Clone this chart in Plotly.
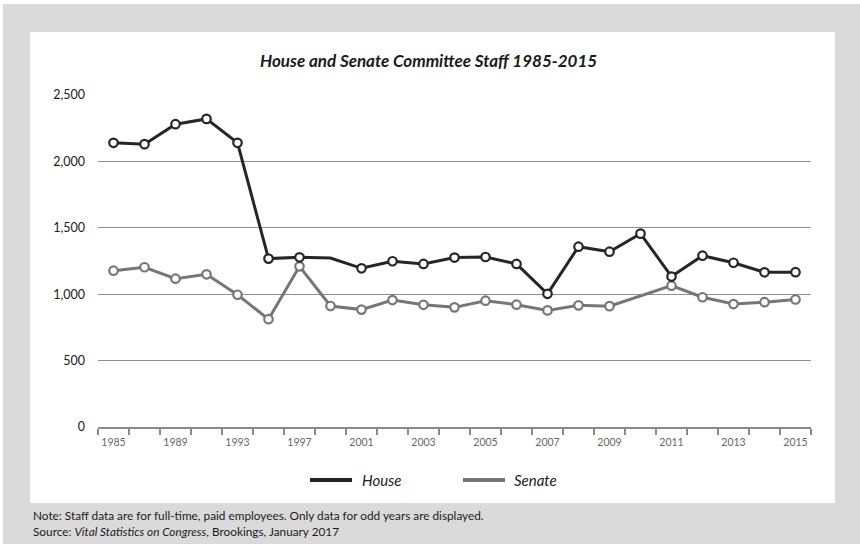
import plotly.graph_objects as go

# Committee staff counts by year (category slots as drawn on the axis)
years = ["1985", "1987", "1989", "1991", "1993", "1995", "1997", "1999", "2001",
         "2002", "2003", "2004", "2005", "2006", "2007", "2008", "2009", "2010",
         "2011", "2012", "2013", "2014", "2015"]
house = [2140, 2130, 2280, 2320, 2140, 1268, 1278, 1272, 1195, 1248, 1228, 1276,
         1280, 1228, 1003, 1358, 1320, 1456, 1133, 1290, 1237, 1165, 1166]
senate = [1177, 1203, 1117, 1150, 996, 812, 1210, 911, 884, 956, 920, 901,
          951, 921, 878, 916, 910, 987, 1064, 977, 926, 940, 960]
# Years whose point marker is not shown
house_hidden = ["1999"]
senate_hidden = ["2010"]

W, H = 860, 544
L, R, T, B = 98, 811, 95, 427  # plot area in pixels

FONT = "Lato"
HOUSE_C = "#262626"
SENATE_C = "#767676"

idx = list(range(len(years)))


def px(x):
    return (x - L) / (R - L)


def py(y):
    return (B - y) / (B - T)


def series(name, vals, color, hidden):
    op = [0 if y in hidden else 1 for y in years]
    return go.Scatter(
        x=idx, y=vals, name=name, mode="lines+markers",
        line=dict(color=color, width=3),
        marker=dict(symbol="circle", size=8.5, color="white", opacity=op,
                    line=dict(color=color, width=2.2)),
        showlegend=False, hoverinfo="skip")


fig = go.Figure()
fig.add_trace(series("Senate", senate, SENATE_C, senate_hidden))
fig.add_trace(series("House", house, HOUSE_C, house_hidden))

# invisible trace to drive the label-only x axis
fig.add_trace(go.Scatter(x=[idx[0]], y=[None], xaxis="x2", showlegend=False,
                         hoverinfo="skip"))

shapes = [
    dict(type="rect", xref="paper", yref="paper", x0=px(3), x1=px(W + 5),
         y0=py(H + 5), y1=py(4), fillcolor="#dadada", line=dict(width=0),
         layer="below"),
    dict(type="rect", xref="paper", yref="paper", x0=px(30), x1=px(835),
         y0=py(503), y1=py(32), fillcolor="white", line=dict(width=0),
         layer="below"),
]

annotations = [
    dict(text="<b><i>House and Senate Committee Staff 1985-2015</i></b>",
         xref="paper", yref="paper", x=px(428), y=py(60), showarrow=False,
         xanchor="center", yanchor="middle",
         font=dict(family=FONT, size=17, color="#1a1a1a")),
    dict(text="Note: Staff data are for full-time, paid employees. Only data for odd years are displayed.",
         xref="paper", yref="paper", x=px(31), y=py(515), showarrow=False,
         xanchor="left", yanchor="middle",
         font=dict(family=FONT, size=11.8, color="#1a1a1a")),
    dict(text="Source: <i>Vital Statistics on Congress</i>, Brookings, January 2017",
         xref="paper", yref="paper", x=px(31), y=py(531), showarrow=False,
         xanchor="left", yanchor="middle",
         font=dict(family=FONT, size=11.8, color="#1a1a1a")),
]

# legend drawn as line swatches with italic labels
legend_items = [("House", HOUSE_C, 310, 352, 360), ("Senate", SENATE_C, 463, 505, 512)]
for name, color, x0, x1, tx in legend_items:
    shapes.append(dict(type="line", xref="paper", yref="paper", x0=px(x0), x1=px(x1),
                       y0=py(480), y1=py(480), line=dict(color=color, width=4)))
    annotations.append(dict(text=f"<i>{name}</i>", xref="paper", yref="paper",
                            x=px(tx), y=py(480), showarrow=False, xanchor="left",
                            yanchor="middle",
                            font=dict(family=FONT, size=15, color="#1a1a1a")))

bounds = [i - 0.5 for i in idx] + [idx[-1] + 0.5]

fig.update_layout(
    width=W, height=H,
    margin=dict(l=L, r=W - R, t=T, b=H - B, pad=0),
    paper_bgcolor="white", plot_bgcolor="rgba(0,0,0,0)",
    font=dict(family=FONT),
    showlegend=False,
    shapes=shapes, annotations=annotations,
    xaxis=dict(range=[-0.5, len(years) - 0.5], tickmode="array", tickvals=bounds,
               ticktext=[""] * len(bounds), ticks="outside", ticklen=6,
               tickcolor="#8a8a8a", tickwidth=1.5, showline=True,
               linecolor="#8a8a8a", linewidth=1.5, showgrid=False, zeroline=False,
               fixedrange=True),
    xaxis2=dict(overlaying="x", anchor="y", side="bottom",
                range=[-0.5, len(years) - 0.5], tickmode="array",
                tickvals=idx[::2], ticktext=years[::2], ticks="", showline=False,
                showgrid=False, zeroline=False, ticklabelstandoff=7,
                tickfont=dict(family=FONT, size=10.5, color="#666666")),
    yaxis=dict(range=[0, 2500], tickmode="array",
               tickvals=[0, 500, 1000, 1500, 2000, 2500],
               ticktext=["0", "500", "1,000", "1,500", "2,000", "2,500"],
               showgrid=True, gridcolor="#8f8f8f", gridwidth=1.3,
               zeroline=False, showline=False, ticks="", ticklabelstandoff=12,
               tickfont=dict(family=FONT, size=12.5, color="#1a1a1a"),
               fixedrange=True),
)

fig.write_html("out.html")
